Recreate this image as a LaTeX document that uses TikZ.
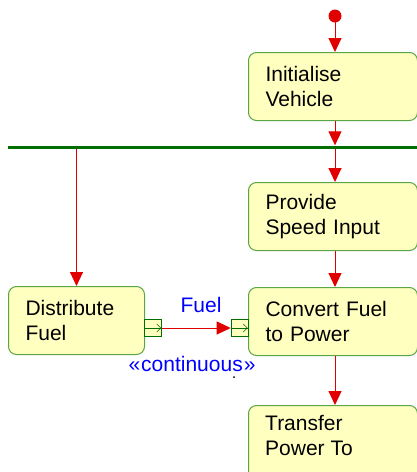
\documentclass[tikz,border=0pt]{standalone}
\usepackage{fontspec}
\setmainfont{Liberation Sans}
\usetikzlibrary{arrows.meta}
\definecolor{actfill}{RGB}{255,255,192}
\definecolor{actline}{RGB}{90,165,70}
\definecolor{flowred}{RGB}{225,0,0}
\definecolor{bargreen}{RGB}{0,110,0}
\definecolor{labelblue}{RGB}{0,0,255}
\begin{document}
\begin{tikzpicture}[x=1pt,y=-1pt,
  action/.style={draw=actline, line width=1pt, fill=actfill, rounded corners=8pt,
    anchor=north west, minimum height=68pt, inner sep=0pt,
    text width=#1, align=left, font=\fontsize{21}{25}\selectfont},
  flow/.style={draw=flowred, line width=1pt, -{Triangle[length=14pt,width=13pt]}},
  pinbox/.style={draw=bargreen, line width=0.6pt, fill=actfill, minimum width=17pt,
    minimum height=17pt, inner sep=0pt},
  pinarrow/.style={draw=bargreen, line width=0.6pt},
  lbl/.style={text=labelblue, font=\fontsize{21}{25}\selectfont, inner sep=0pt}]
\useasboundingbox (0,0) rectangle (417,472);
\clip (0,0) rectangle (417,472);
\fill[white] (0,0) rectangle (417,472);

% initial state
\fill[flowred] (335,16) circle (6.5pt);
\coordinate (start) at (335,16);

% synchronisation bar
\node[fill=bargreen, minimum width=409pt, minimum height=3pt, inner sep=0pt,
  anchor=west] (bar) at (8,147) {};

% actions (text width = box width - 2 x 17pt, so text starts 17pt in)
\node[action=135pt, minimum width=169pt] (init) at (248,52)
  {Initialise\\Vehicle};
\node[action=135pt, minimum width=169pt] (prov) at (248,182)
  {Provide\\Speed Input};
\node[action=135pt, minimum width=169pt] (conv) at (248,287)
  {Convert Fuel\\to Power};
\node[action=135pt, minimum width=169pt, minimum height=78pt]
  (trans) at (248,405) {};
\node[anchor=north west, inner sep=0pt, align=left,
  font=\fontsize{21}{25}\selectfont] (transtext) at (265,415)
  {Transfer\\Power To};
\node[action=102pt, minimum width=136pt] (dist) at (8,286)
  {Distribute\\Fuel};

% object flow pins
\node[pinbox] (pout) at (153,328) {};
\node[pinbox] (pin) at (239.5,328) {};
\draw[pinarrow] (pout.west) -- (pout.east);
\draw[pinarrow] ([xshift=-5pt,yshift=-4pt]pout.east) -- ([xshift=-1pt]pout.east)
  -- ([xshift=-5pt,yshift=4pt]pout.east);
\draw[pinarrow] (pin.west) -- (pin.east);
\draw[pinarrow] ([xshift=-5pt,yshift=-4pt]pin.east) -- ([xshift=-1pt]pin.east)
  -- ([xshift=-5pt,yshift=4pt]pin.east);

% control flows
\draw[flow] (start) -- (start |- init.north);
\draw[flow] (start |- init.south) -- (start |- bar.north);
\draw[flow] (start |- bar.south) -- (start |- prov.north);
\draw[flow] (dist.north |- bar.south) -- (dist.north);
\draw[flow] (start |- prov.south) -- (start |- conv.north);
\draw[flow] (start |- conv.south) -- (start |- trans.north);

% object flow
\draw[flow] (pout.east) -- (pin.west);
\node[lbl] (fuel) at (201,305) {Fuel};
\node[lbl] (stereo) at (192,364) {«\kern1pt continuous\kern1pt»};
\fill (234,377) circle (1pt);
\end{tikzpicture}
\end{document}
